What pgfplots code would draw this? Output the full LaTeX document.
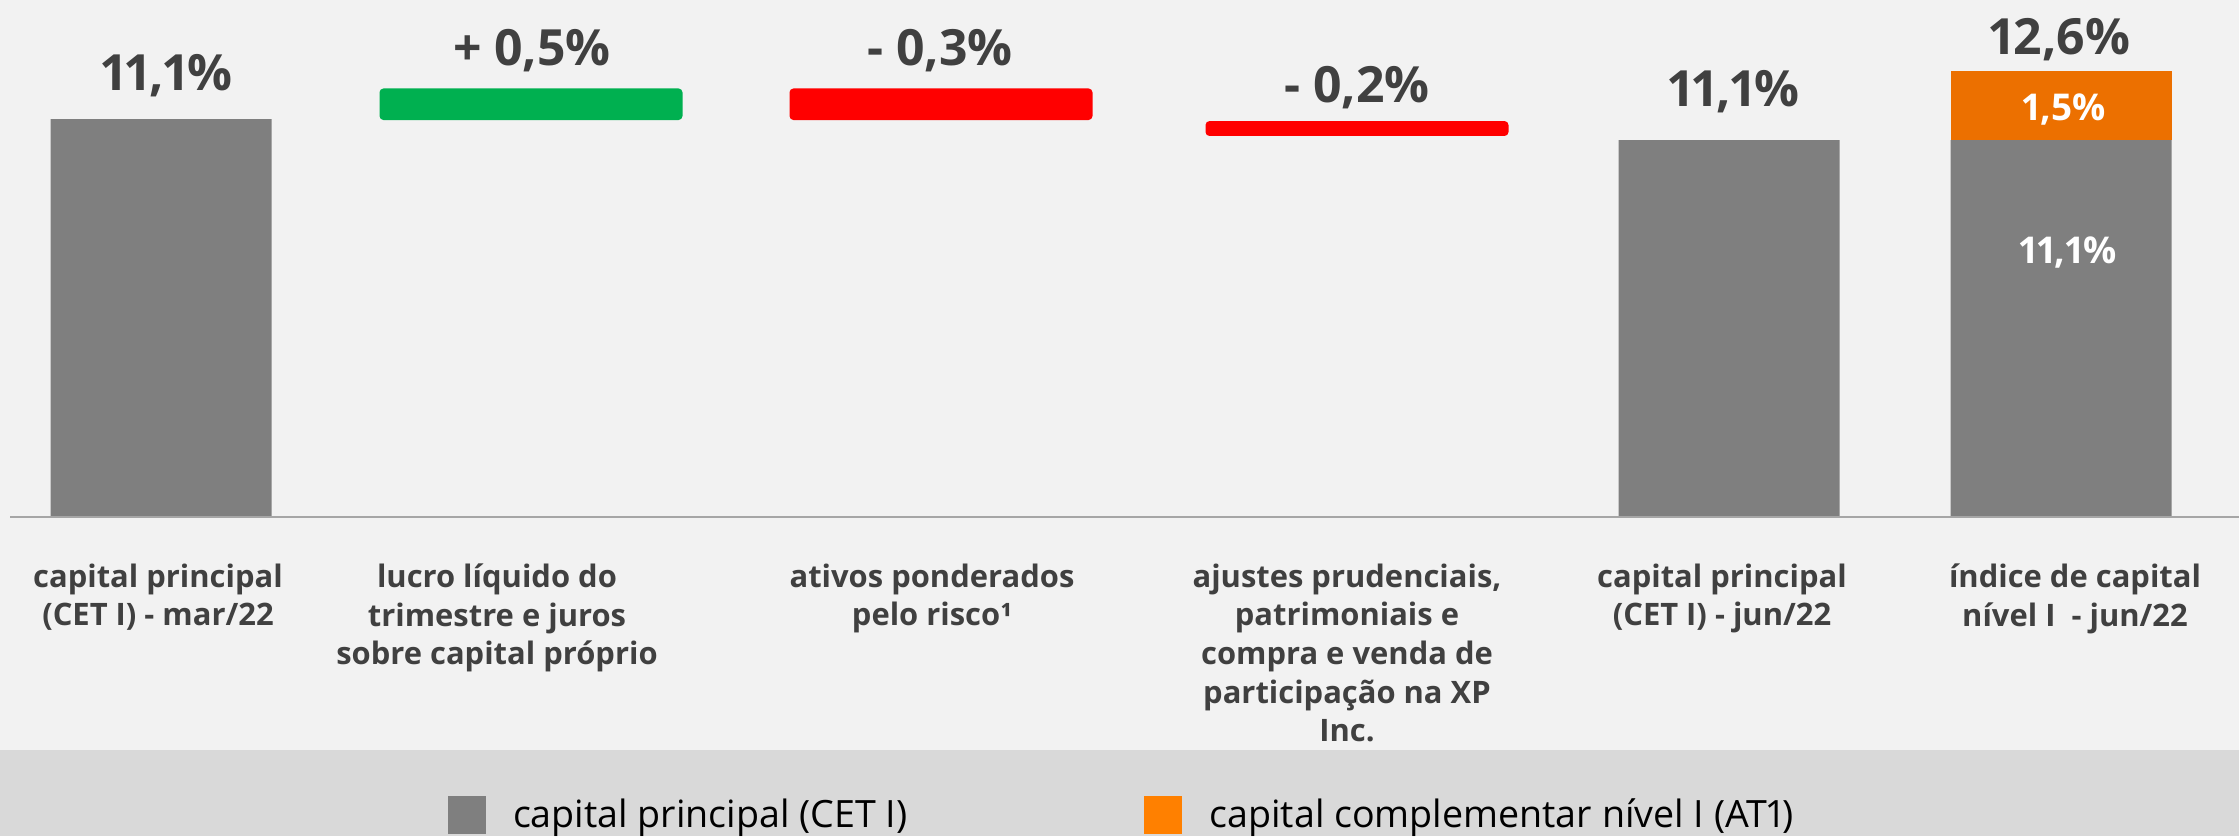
\documentclass[border=0pt]{standalone}
\usepackage{pgfplots}
\pgfplotsset{compat=1.18}
\usepackage{fontspec}
\setmainfont{Open Sans}[Numbers=Proportional]
\definecolor{bg}{HTML}{F2F2F2}
\definecolor{band}{HTML}{D9D9D9}
\definecolor{cgray}{HTML}{7F7F7F}
\definecolor{cgreen}{HTML}{00B050}
\definecolor{cred}{HTML}{FF0000}
\definecolor{corange}{HTML}{EC7000}
\definecolor{lorange}{HTML}{FF8000}
\definecolor{txt}{HTML}{404040}
\definecolor{axline}{HTML}{A6A6A6}
\tikzset{
  vlab/.style={inner sep=0pt, anchor=base, font=\fontsize{14.2}{16}\selectfont\bfseries, text=txt},
  wlab/.style={inner sep=0pt, anchor=base, font=\fontsize{10.5}{12}\selectfont\bfseries, text=white},
  clab/.style={inner sep=0pt, anchor=north, align=center, font=\fontsize{8.8}{11}\selectfont\bfseries, text=txt},
}
\begin{document}
\begin{tikzpicture}
\path[use as bounding box] (0,-3.19) rectangle (22.39,5.17);
\fill[bg] (0,-3.19) rectangle (22.39,5.17);
\fill[band] (0,-3.19) rectangle (22.39,-2.33);
\begin{axis}[
  at={(0,0)}, anchor=south west,
  scale only axis, width=22.39cm, height=5.17cm,
  xmin=0, xmax=2239, ymin=0, ymax=15.224,
  hide axis, clip=false,
  ybar stacked,
  legend columns=2,
  legend style={at={(0.2001,-0.5397)}, anchor=north west, draw=none, fill=none,
    inner sep=0pt, outer sep=0pt, font=\fontsize{10.7}{12}\selectfont,
    nodes={inner sep=0pt},
    /tikz/every odd column/.append style={column sep=0.27cm},
    /tikz/every even column/.append style={column sep=2.37cm}},
]
\draw[axline, line width=0.02cm] (axis cs:10,0) -- (axis cs:2239,0);
% capital principal (CET I)
\addplot[fill=cgray, draw=none, bar width=221,
  legend image code/.code={\fill[cgray] (0cm,-0.18cm) rectangle (0.38cm,0.20cm);}]
  coordinates {(161,11.72) (531,0) (941,0) (1357,0) (1729,11.1) (2061,11.1)};
\addlegendentry{capital principal (CET I)}
% capital complementar nivel I (AT1)
\addplot[fill=corange, draw=none, bar width=221,
  legend image code/.code={\fill[lorange] (0cm,-0.18cm) rectangle (0.38cm,0.20cm);}]
  coordinates {(161,0) (531,0) (941,0) (1357,0) (1729,0) (2061,2.03)};
\addlegendentry{capital complementar nível I (AT1)}
% invisible base of floating bars
\addplot[fill=none, draw=none, bar width=303]
  coordinates {(161,0) (531,11.69) (941,11.69) (1357,11.22) (1729,0) (2061,0)};
% positive change
\addplot[fill=cgreen, draw=none, bar width=303, rounded corners=0.04cm]
  coordinates {(161,0) (531,0.93) (941,0) (1357,0) (1729,0) (2061,0)};
% negative changes
\addplot[fill=cred, draw=none, bar width=303, rounded corners=0.04cm]
  coordinates {(161,0) (531,0) (941,0.93) (1357,0.44) (1729,0) (2061,0)};

% value labels
\node[vlab] at (axis cs:167,12.57) {11,1\%};
\node[vlab] at (axis cs:532,13.30) {+ 0,5\%};
\node[vlab] at (axis cs:940,13.30) {- 0,3\%};
\node[vlab] at (axis cs:1357,12.20) {- 0,2\%};
\node[vlab] at (axis cs:1734,12.08) {11,1\%};
\node[vlab] at (axis cs:2060,13.63) {12,6\%};

% category labels
\node[clab] at (axis cs:158,-1.354) {capital principal\\(CET I) - mar/22};
\node[clab] at (axis cs:497,-1.354) {lucro líquido do\\trimestre e juros\\sobre capital próprio};
\node[clab] at (axis cs:932,-1.354) {ativos ponderados\\pelo risco¹};
\node[clab] at (axis cs:1347,-1.354) {ajustes prudenciais,\\patrimoniais e\\compra e venda de\\participação na XP\\Inc.};
\node[clab] at (axis cs:1722,-1.354) {capital principal\\(CET I) - jun/22};
\node[clab] at (axis cs:2075,-1.354) {índice de capital\\nível I~ - jun/22};
\end{axis}
% labels inside the stacked bar (drawn over the bars)
\node[wlab] at (20.64,3.967) {1,5\%};
\node[wlab] at (20.68,2.54) {11,1\%};
\end{tikzpicture}
\end{document}
